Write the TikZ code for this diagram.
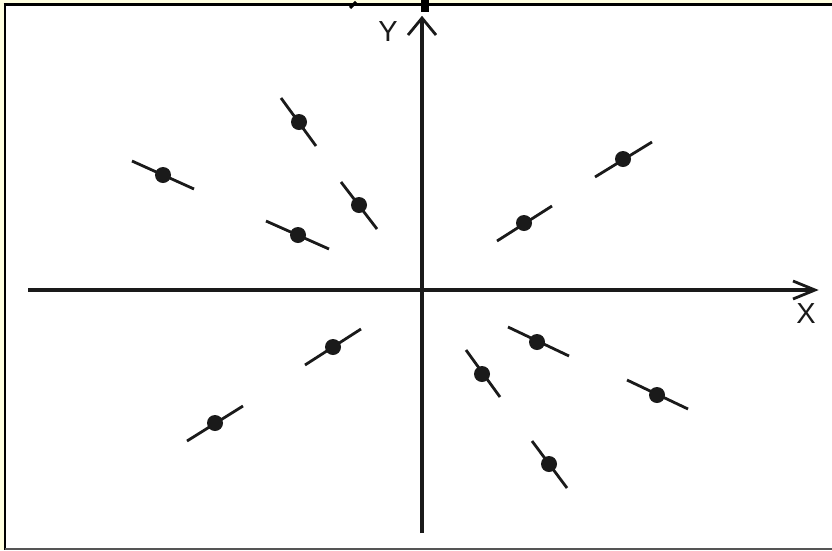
\documentclass[tikz,border=0pt]{standalone}
\usepackage{fontspec}
\setmainfont{Liberation Sans}
\definecolor{ink}{HTML}{1A1A1A}
\definecolor{paperyellow}{HTML}{FFFFE0}
\definecolor{botgray}{HTML}{555555}
\begin{document}
\begin{tikzpicture}[x=1pt,y=-1pt,
  axisline/.style={draw=ink,line width=3.4pt},
  chevron/.style={draw=ink,line width=2.8pt,line join=miter},
  dipline/.style={draw=ink,line width=2.8pt},
  dipdot/.style={circle,fill=ink,inner sep=0pt,minimum width=16pt,minimum height=15pt},
  axlabel/.style={text=ink,font=\fontsize{29}{29}\selectfont,inner sep=0pt}]
\useasboundingbox (0,0) rectangle (832,550);
% background and frame
\fill[paperyellow] (0,0) rectangle (832,550);
\fill[white] (4,3.5) rectangle (832,550);
\draw[black,line width=2.8pt] (3.5,4.8) -- (832,4.8);
\draw[black,line width=2.5pt] (5,3.5) -- (5,550);
\draw[botgray,line width=2.5pt] (5,548.8) -- (832,548.8);
% cut-off fragments at top edge
\draw[black,line width=3pt] (350,8) -- (356,2);
\fill[black] (421,0) rectangle (429,12);
% axes
\coordinate (xl) at (28,290);
\coordinate (xr) at (814,290);
\coordinate (yb) at (422,533);
\coordinate (yt) at (422,19);
\draw[axisline] (xl) -- (xr);
\draw[axisline] (yb) -- (yt);
\draw[chevron] (793,281) -- (815,290) -- (793,299);
\draw[chevron] (408,35) -- (422,18) -- (436,35);
\node[axlabel] (ylab) at (388,32) {Y};
\node[axlabel] (xlab) at (806,314) {X};
% dipoles
\newcommand\mydip[4]{%
  \draw[dipline] #2 -- #3;
  \node[dipdot] (#1) at #4 {};}
\mydip{d1}{(281,98)}{(316,146)}{(299,122)}
\mydip{d2}{(132,161)}{(194,189)}{(163,175)}
\mydip{d3}{(341,182)}{(377,229)}{(359,205)}
\mydip{d4}{(266,221)}{(329,249)}{(298,235)}
\mydip{d5}{(497,241)}{(552,206)}{(524,223)}
\mydip{d6}{(595,177)}{(652,142)}{(623,159)}
\mydip{d7}{(305,365)}{(361,329)}{(333,347)}
\mydip{d8}{(187,441)}{(243,406)}{(215,423)}
\mydip{d9}{(508,327)}{(569,356)}{(537,342)}
\mydip{d10}{(466,350)}{(500,397)}{(482,374)}
\mydip{d11}{(627,380)}{(688,409)}{(657,395)}
\mydip{d12}{(532,441)}{(567,488)}{(549,464)}
\end{tikzpicture}
\end{document}
